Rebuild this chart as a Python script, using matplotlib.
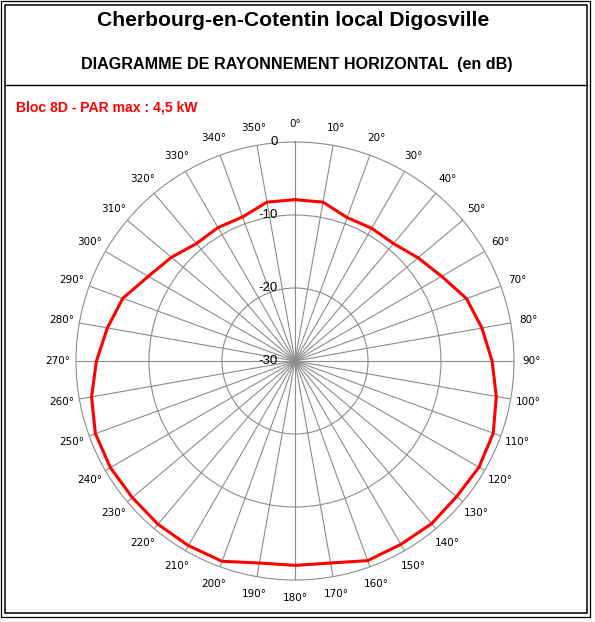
import numpy as np
import matplotlib
matplotlib.use("Agg")
import matplotlib.pyplot as plt
from matplotlib.patches import Rectangle
from matplotlib.lines import Line2D
from matplotlib.transforms import offset_copy

# azimuts (degres) et attenuation relevee (dB)
azimuts = list(range(0, 360, 10))
attenuation = [-7.9, -7.9, -9.1, -9.0, -9.0, -8.0, -6.8, -5.0, -4.0, -3.0,
               -2.0, -1.1, -0.9, -1.1, -0.9, -1.0, -0.9, -1.9, -2.0, -1.9,
               -0.8, -0.8, -0.8, -0.9, -0.8, -0.9, -1.7, -2.8, -3.9, -4.9,
               -6.8, -7.9, -9.0, -8.9, -9.0, -7.9]
etiquettes_r = [0, -10, -20, -30]

W, H = 595, 622
fig = plt.figure(figsize=(W / 100, H / 100), dpi=100)

# cadre double + separation du titre
fig.add_artist(Rectangle((1 / W, 1 - 617 / H), 589 / W, 616 / H, transform=fig.transFigure,
                         fill=False, ec="black", lw=0.9))
fig.add_artist(Rectangle((5 / W, 1 - 613 / H), 582 / W, 608 / H, transform=fig.transFigure,
                         fill=False, ec="black", lw=1.1))
fig.add_artist(Line2D([5 / W, 587 / W], [1 - 85 / H, 1 - 85 / H], transform=fig.transFigure,
                      color="black", lw=1.0))

fig.text(293 / W, 1 - 20 / H, "Cherbourg-en-Cotentin local Digosville", ha="center", va="center",
         fontsize=15.2, fontweight="bold", family="Liberation Sans")
fig.text(297 / W, 1 - 64 / H, "DIAGRAMME DE RAYONNEMENT HORIZONTAL  (en dB)", ha="center",
         va="center", fontsize=11.6, fontweight="bold", family="Liberation Sans")
fig.text(16 / W, 1 - 108 / H, "Bloc 8D - PAR max : 4,5 kW", ha="left", va="center",
         fontsize=10.1, fontweight="bold", color="red", family="Liberation Sans")

# axe polaire : centre (295, 361), rayon 219 px
cx, cy, R = 295, 361, 219
ax = fig.add_axes([(cx - R) / W, 1 - (cy + R) / H, 2 * R / W, 2 * R / H], projection="polar")
ax.set_theta_zero_location("N")
ax.set_theta_direction(-1)
ax.set_ylim(-30, 0)

ax.set_thetagrids(azimuts, [f"{a}°" for a in azimuts], fontsize=7.5, family="DejaVu Sans")
ax.set_rgrids([-20, -10], labels=["", ""])
ax.tick_params(axis="x", pad=6, length=0)
ax.grid(True, color="#8c8c8c", lw=0.8)
ax.spines["polar"].set_color("#8c8c8c")
ax.spines["polar"].set_linewidth(0.8)

th = np.deg2rad(azimuts + [azimuts[0]])
ax.plot(th, attenuation + [attenuation[0]], color="red", lw=2.2, zorder=5)

trans = offset_copy(ax.transData, fig=fig, x=-17, y=0, units="dots")
for v in etiquettes_r:
    ax.text(0, v, str(v), transform=trans, ha="right", va="center", fontsize=9.5,
            family="Liberation Sans", zorder=6)

fig.savefig("out.png", dpi=100)
